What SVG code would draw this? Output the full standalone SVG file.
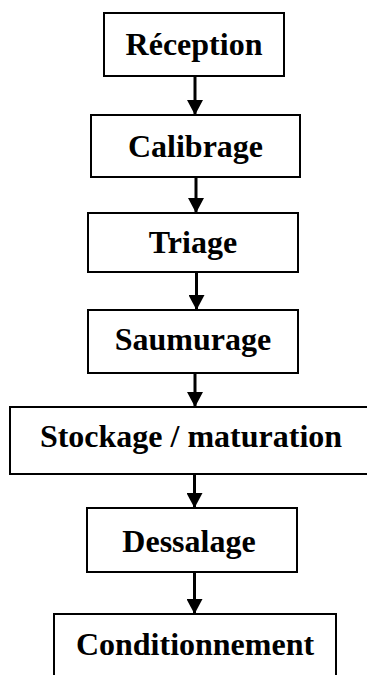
<svg xmlns="http://www.w3.org/2000/svg" width="367" height="675" viewBox="0 0 367 675">
  <style>
    .box { fill: #ffffff; stroke: #000000; stroke-width: 2; }
    .label { font-family: "Liberation Serif", "Times New Roman", serif; font-weight: bold; font-size: 32px; fill: #000000; text-anchor: middle; }
    .flow { stroke: #000000; stroke-width: 3; fill: none; marker-end: url(#head); }
  </style>
  <defs>
    <marker id="head" markerUnits="userSpaceOnUse" markerWidth="16" markerHeight="16" refX="15" refY="8" orient="auto">
      <path d="M0,0 L15,8 L0,16 Z" fill="#000000"/>
    </marker>
  </defs>
  <rect width="367" height="675" fill="#ffffff"/>

  <g id="connectors">
    <line class="flow" x1="195" y1="76" x2="195" y2="115"/>
    <line class="flow" x1="196" y1="177" x2="196" y2="213"/>
    <line class="flow" x1="196.5" y1="272" x2="196.5" y2="310"/>
    <line class="flow" x1="195" y1="373" x2="195" y2="407"/>
    <line class="flow" x1="194.5" y1="474" x2="194.5" y2="508"/>
    <line class="flow" x1="194.5" y1="572" x2="194.5" y2="614"/>
  </g>

  <g id="reception">
    <rect class="box" x="104" y="13" width="180" height="63"/>
    <text class="label" x="194" y="55">Réception</text>
  </g>
  <g id="calibrage">
    <rect class="box" x="91" y="115" width="209" height="62"/>
    <text class="label" x="195.5" y="157">Calibrage</text>
  </g>
  <g id="triage">
    <rect class="box" x="88" y="213" width="210" height="59"/>
    <text class="label" x="193" y="253">Triage</text>
  </g>
  <g id="saumurage">
    <rect class="box" x="88" y="310" width="210" height="63"/>
    <text class="label" x="193" y="350">Saumurage</text>
  </g>
  <g id="stockage">
    <rect class="box" x="10" y="407" width="380" height="67"/>
    <text class="label" x="191" y="447">Stockage / maturation</text>
  </g>
  <g id="dessalage">
    <rect class="box" x="87" y="508" width="210" height="64"/>
    <text class="label" x="189" y="552">Dessalage</text>
  </g>
  <g id="conditionnement">
    <rect class="box" x="54" y="614" width="282" height="80"/>
    <text class="label" x="195" y="655">Conditionnement</text>
  </g>
</svg>
